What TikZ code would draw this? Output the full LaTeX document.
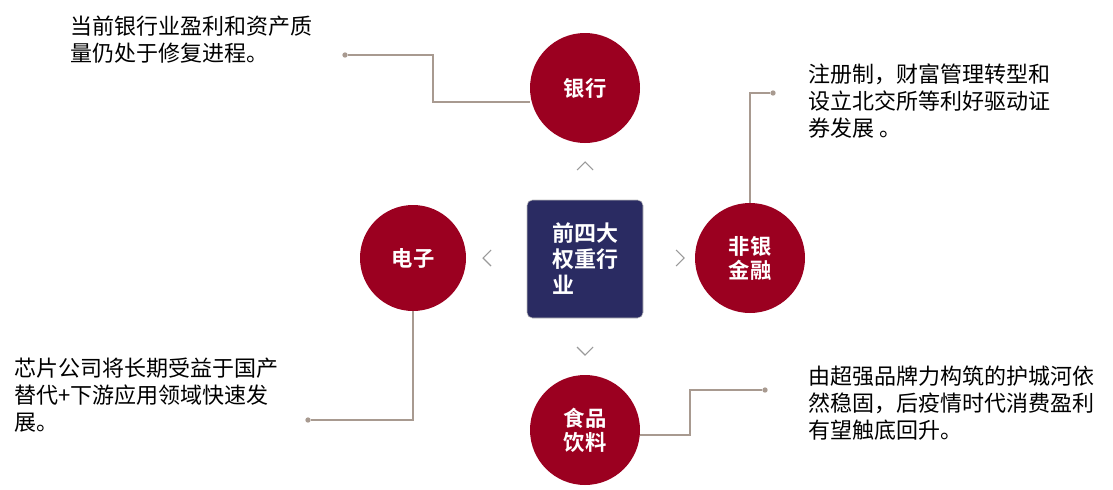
\documentclass[tikz,border=0pt]{standalone}
\usepackage{fontspec}
\setmainfont{Noto Sans CJK SC}
\newfontfamily\cjkb{Noto Sans CJK SC Bold}
\definecolor{cred}{HTML}{9B0020}
\definecolor{cnavy}{HTML}{2A2B62}
\definecolor{cline}{HTML}{A89A90}
\definecolor{cchev}{HTML}{9A9A9A}
\begin{document}
\begin{tikzpicture}[x=0.75pt,y=-0.75pt,
  circ/.style={circle,fill=cred,minimum size=110*0.75pt,text=white,font=\cjkb\fontsize{16}{18}\selectfont,align=center,inner sep=0},
  conn/.style={cline,line width=0.8pt},
  dotend/.style={circle,fill=cline,inner sep=0,minimum size=4pt},
  chev/.style={cchev,line width=0.8pt},
  desc/.style={anchor=north west,align=left,font=\fontsize{16.5}{20}\selectfont,inner sep=0}]
\useasboundingbox (0,0) rectangle (1113,489);
\node[draw=gray!50,fill=cnavy,rounded corners=4pt,minimum width=116*0.75pt,minimum height=118*0.75pt,text=white,font=\cjkb\fontsize{16.5}{19.5}\selectfont,align=left] (c) at (585,259) {前四大\\权重行\\业};
\node[circ] (bank) at (585,88) {银行};
\node[circ,minimum size=106*0.75pt] (elec) at (413,258) {电子};
\node[circ] (fin) at (750,258) {非银\\金融};
\node[circ] (food) at (585,430) {食品\\饮料};
% chevrons
\draw[chev] (577,170) -- (585,162) -- (593,170);
\draw[chev] (491,250) -- (483,258) -- (491,266);
\draw[chev] (676,250) -- (684,258) -- (676,266);
\draw[chev] (577,347) -- (585,355) -- (593,347);
% connectors
\node[dotend] (d1) at (345,55) {};
\coordinate (b1) at (530,102);
\draw[conn] (d1) -- (433,55) -- (433,102) -- (b1);
\node[dotend] (d2) at (773,93) {};
\draw[conn] (d2) -- (750,93) -- (fin.north);
\node[dotend] (d3) at (308,420) {};
\draw[conn] (elec.south) -- (413,420) -- (d3);
\node[dotend] (d4) at (765,390) {};
\coordinate (f1) at (640,435);
\draw[conn] (f1) -- (690,435) -- (690,390) -- (d4);
% texts
\node[desc] (t1) at (70,16) {当前银行业盈利和资产质\\量仍处于修复进程。};
\node[desc] (t2) at (808,64) {注册制，财富管理转型和\\设立北交所等利好驱动证\\券发展 。};
\node[desc] (t3) at (14,358) {芯片公司将长期受益于国产\\替代+下游应用领域快速发\\展。};
\node[desc] (t4) at (808,366) {由超强品牌力构筑的护城河依\\然稳固，后疫情时代消费盈利\\有望触底回升。};
\end{tikzpicture}
\end{document}
